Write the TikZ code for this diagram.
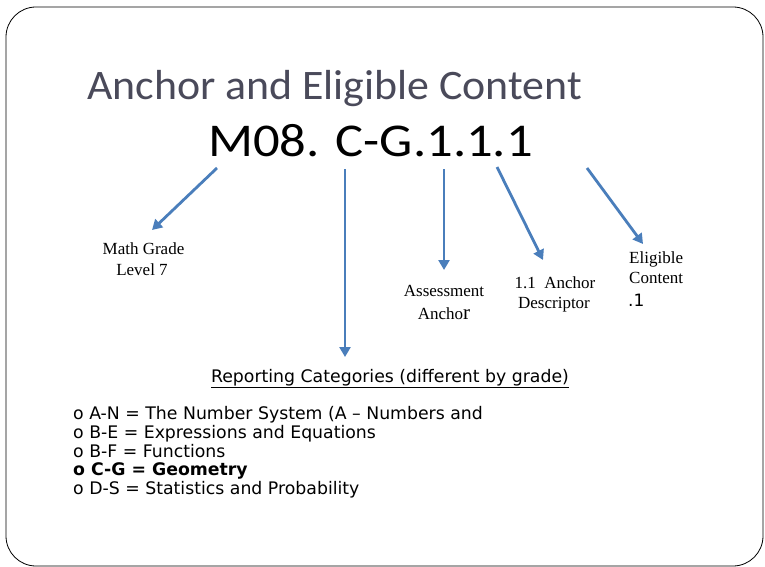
\documentclass[tikz,border=0pt]{standalone}
\usepackage{fontspec}
\setmainfont{Liberation Serif}
\newfontfamily\titlefont{Carlito}
\newfontfamily\listfont{DejaVu Sans}
\usetikzlibrary{arrows.meta}
\definecolor{arrowblue}{HTML}{4A7EBB}
\definecolor{titlegray}{HTML}{4A4A5A}
\tikzset{
  blue arrow/.style={draw=arrowblue, line width=2.8pt, -{Triangle[length=10pt,width=11pt]}},
  lbl/.style={font=\fontsize{17}{20}\selectfont, align=center, inner sep=0pt, anchor=base},
  item/.style={font=\listfont\fontsize{17.3}{19}\selectfont, anchor=base west, inner sep=0pt},
}
\begin{document}
\begin{tikzpicture}[x=1pt,y=-1pt]
\useasboundingbox (0,0) rectangle (765,567);
\fill[white] (0,0) rectangle (765,567);
\draw[line width=0.8pt, rounded corners=30pt] (6,7) rectangle (763,566);
\node[anchor=base west, inner sep=0pt, text=titlegray, font=\titlefont\fontsize{42}{45}\selectfont] (title) at (87,100) {\scalebox{1.044}[1]{Anchor and Eligible Content}};
\node[anchor=base west, inner sep=0pt, font=\titlefont\fontsize{47}{50}\selectfont] (code) at (208,156) {\scalebox{1.12}[1]{M08. C-G.1.1.1}};
\coordinate (s1) at (217,168); \coordinate (t1) at (152,230);
\coordinate (s2) at (345,169); \coordinate (t2) at (345,357);
\coordinate (s3) at (444,169); \coordinate (t3) at (444,270);
\coordinate (s4) at (497,167); \coordinate (t4) at (543,260);
\coordinate (s5) at (587,168); \coordinate (t5) at (643,244);
\draw[blue arrow] (s1) -- (t1);
\draw[blue arrow] (s2) -- (t2);
\draw[blue arrow] (s3) -- (t3);
\draw[blue arrow] (s4) -- (t4);
\draw[blue arrow] (s5) -- (t5);
\node[lbl] (math1) at (143.5,254) {Math Grade};
\node[lbl] (math2) at (142,275) {Level 7};
\node[lbl] (assess1) at (444,296) {Assessment};
\node[lbl] (assess2) at (444,319) {Ancho{\fontsize{21}{21}\selectfont r}};
\node[lbl] (desc1) at (555,288) {1.1\ \ Anchor};
\node[lbl] (desc2) at (554,308) {Descriptor};
\node[lbl, anchor=base west] (elig1) at (629,263) {Eligible};
\node[lbl, anchor=base west] (elig2) at (629,283) {Content};
\node[lbl, anchor=base west, font=\listfont\fontsize{17}{20}\selectfont] (elig3) at (628,306) {.1};
\node[anchor=base, inner sep=0pt, font=\listfont\fontsize{17.3}{19}\selectfont] (rep) at (390,382) {\underline{Reporting Categories (different by grade)}};
\node[item] (i1) at (73,419) {o A-N = The Number System (A – Numbers and};
\node[item] (i2) at (73,438) {o B-E = Expressions and Equations};
\node[item] (i3) at (73,457) {o B-F = Functions};
\node[item, font=\listfont\bfseries\fontsize{17.3}{19}\selectfont] (i4) at (73,475) {o C-G = Geometry};
\node[item] (i5) at (73,494) {o D-S = Statistics and Probability};
\end{tikzpicture}
\end{document}
